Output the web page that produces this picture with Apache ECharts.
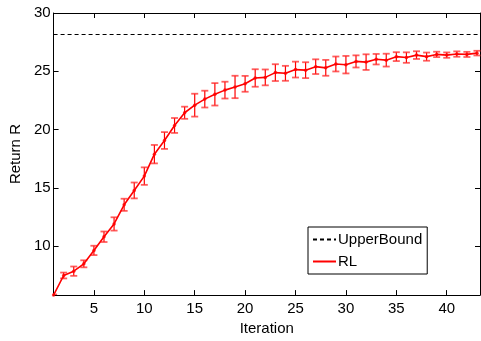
<!DOCTYPE html>
<html><head><meta charset="utf-8">
<script src="https://cdn.jsdelivr.net/npm/echarts@6/dist/echarts.min.js"></script>
<style>html,body{margin:0;padding:0;background:#fff}#c{width:481px;height:341px}</style>
</head><body><div id="c"></div><script>
const iterations=[1,2,3,4,5,6,7,8,9,10,11,12,13,14,15,16,17,18,19,20,21,22,23,24,25,26,27,28,29,30,31,32,33,34,35,36,37,38,39,40,41,42,43];
const rlMean=[5.82,7.5,7.87,8.5,9.65,10.82,11.92,13.56,14.79,16.02,17.9,19.07,20.36,21.45,22.1,22.62,23.03,23.39,23.66,23.93,24.43,24.48,24.89,24.83,25.15,25.1,25.4,25.3,25.63,25.57,25.85,25.79,26.04,25.96,26.26,26.18,26.39,26.26,26.45,26.39,26.48,26.45,26.56];
const rlErr=[0.05,0.25,0.4,0.3,0.4,0.45,0.57,0.52,0.68,0.75,0.79,0.72,0.64,0.52,0.98,0.72,0.96,0.72,0.96,0.68,0.75,0.68,0.72,0.64,0.68,0.68,0.63,0.68,0.64,0.75,0.52,0.67,0.45,0.55,0.38,0.45,0.33,0.35,0.23,0.23,0.23,0.22,0.2];
const upperBound=28.2;
const xTicks=[5,10,15,20,25,30,35,40];
const yTicks=[10,15,20,25,30];

const font='"Liberation Sans", Arial, Helvetica, sans-serif';
const chart=echarts.init(document.getElementById('c'),null,{renderer:'canvas'});

function xAx(pos,show){return {type:'value',position:pos,min:1,max:43.3,
  axisLine:{show:true,onZero:false,lineStyle:{color:'#000',width:1}},
  axisTick:{show:true,inside:true,length:5,customValues:xTicks,lineStyle:{color:'#000'}},
  axisLabel:{show:show,customValues:xTicks,color:'#000',fontSize:15,fontFamily:font,margin:6},
  splitLine:{show:false},
  name:show?'Iteration':'',nameLocation:'middle',nameGap:19,
  nameTextStyle:{color:'#000',fontSize:15,fontFamily:font}};}
function yAx(pos,show){return {type:'value',position:pos,min:5.82,max:30,
  axisLine:{show:true,onZero:false,lineStyle:{color:'#000',width:1}},
  axisTick:{show:true,inside:true,length:5,customValues:yTicks,lineStyle:{color:'#000'}},
  axisLabel:{show:show,customValues:yTicks,color:'#000',fontSize:15,fontFamily:font,margin:3},
  splitLine:{show:false},
  name:show?'Return R':'',nameLocation:'middle',nameGap:24,
  nameTextStyle:{color:'#000',fontSize:15,fontFamily:font}};}

const meanPts=iterations.map((x,i)=>[x,rlMean[i]]);
const errData=iterations.map((x,i)=>[x,rlMean[i]-rlErr[i],rlMean[i]+rlErr[i]]);

chart.setOption({
  animation:false,
  backgroundColor:'#fff',
  grid:{left:47,top:13,width:433,height:295,containLabel:false},
  xAxis:[xAx('bottom',true),xAx('top',false)],
  yAxis:[yAx('left',true),yAx('right',false)],
  legend:{orient:'vertical',left:308,top:227,padding:[5,5,5,4],itemGap:7,itemWidth:23,itemHeight:14,
    backgroundColor:'#fff',borderColor:'#000',borderWidth:1,borderRadius:0,
    itemStyle:{opacity:0},
    textStyle:{color:'#000',fontSize:15,fontFamily:font,padding:[0,0,0,-3]},
    data:[{name:'UpperBound',itemStyle:{opacity:0}},{name:'RL',itemStyle:{opacity:0}}]},
  series:[
    {name:'UpperBound',type:'line',data:[],symbol:'none',
     lineStyle:{color:'#000',width:1,type:[4,3]},itemStyle:{color:'#000'},
     markLine:{silent:true,symbol:'none',label:{show:false},
       lineStyle:{color:'#000',width:1,type:[4,3]},data:[{yAxis:upperBound}]}},
    {name:'RLerr',type:'custom',data:errData,z:3,clip:true,
     renderItem:function(params,api){
       const x=api.value(0),lo=api.value(1),hi=api.value(2);
       const p1=api.coord([x,lo]),p2=api.coord([x,hi]);
       const w=3.5;
       const c='#ff0000';
       const cc='rgba(255,40,40,0.75)';
       return {type:'group',children:[
         {type:'line',shape:{x1:p1[0],y1:p1[1],x2:p2[0],y2:p2[1]},style:{stroke:c,lineWidth:1.2}},
         {type:'line',shape:{x1:p1[0]-w,y1:p1[1],x2:p1[0]+w,y2:p1[1]},style:{stroke:cc,lineWidth:1.8}},
         {type:'line',shape:{x1:p2[0]-w,y1:p2[1],x2:p2[0]+w,y2:p2[1]},style:{stroke:cc,lineWidth:1.8}}
       ]};
     }},
    {name:'RL',type:'line',data:meanPts,showSymbol:false,symbol:'none',z:4,
     lineStyle:{color:'#ff0000',width:1.6},itemStyle:{color:'#ff0000'}},
    {name:'RLpts',type:'scatter',data:meanPts,symbol:'circle',symbolSize:3.5,z:5,
     itemStyle:{color:'#ff0000'}}
  ]
});
</script></body></html>
